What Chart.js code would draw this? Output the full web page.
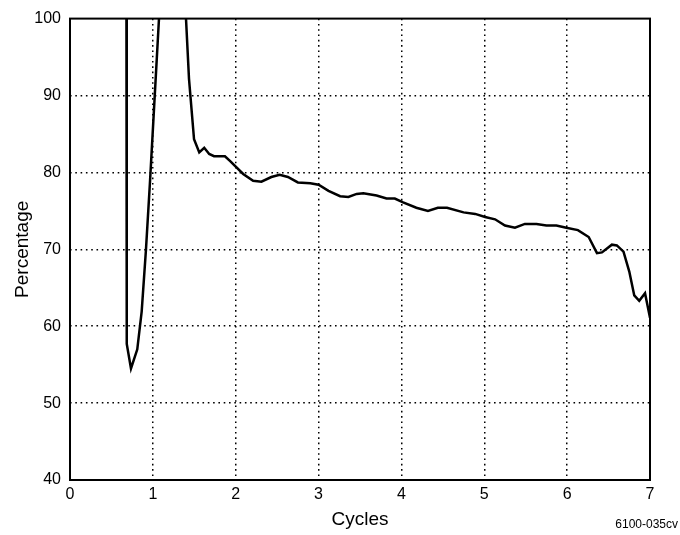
<!DOCTYPE html>
<html><head><meta charset="utf-8">
<script src="https://cdn.jsdelivr.net/npm/chart.js@4/dist/chart.umd.min.js"></script>
<style>html,body{margin:0;padding:0;background:#fff}#wrap{width:680px;height:535px}</style>
</head><body><div id="wrap"><canvas id="c" width="680" height="535"></canvas></div>
<script>
const cycles = [0.68, 0.685, 0.736, 0.812, 0.865, 0.917, 0.965, 1.074, 1.12, 1.36, 1.40, 1.436, 1.497, 1.56, 1.62, 1.68, 1.738, 1.87, 1.93, 2.09, 2.21, 2.31, 2.43, 2.53, 2.63, 2.75, 2.90, 3.00, 3.12, 3.26, 3.36, 3.46, 3.54, 3.70, 3.82, 3.92, 4.02, 4.18, 4.32, 4.44, 4.55, 4.75, 4.89, 5.01, 5.13, 5.25, 5.37, 5.49, 5.63, 5.75, 5.87, 5.99, 6.13, 6.26, 6.36, 6.42, 6.54, 6.60, 6.68, 6.75, 6.81, 6.87, 6.94, 7.00];
const percentage = [112, 57.7, 54.5, 57.0, 61.9, 70.0, 78.7, 100, 112, 112, 100, 92.2, 84.3, 82.6, 83.2, 82.4, 82.1, 82.1, 81.5, 79.8, 78.9, 78.8, 79.4, 79.7, 79.4, 78.7, 78.6, 78.4, 77.6, 76.9, 76.8, 77.2, 77.3, 77.0, 76.6, 76.6, 76.1, 75.4, 75.0, 75.4, 75.4, 74.8, 74.6, 74.2, 73.9, 73.1, 72.8, 73.3, 73.3, 73.1, 73.1, 72.8, 72.5, 71.6, 69.5, 69.6, 70.6, 70.5, 69.7, 67.1, 64.0, 63.3, 64.3, 61.1];
const xTicks = [0, 1, 2, 3, 4, 5, 6, 7];
const yTicks = [40, 50, 60, 70, 80, 90, 100];
const xTitle = 'Cycles';
const yTitle = 'Percentage';
const caption = '6100-035cv';

const FONT = '"Liberation Sans", Arial, sans-serif';
const edge = (v, arr) => v === arr[0] || v === arr[arr.length - 1];

const framePlugin = {
  id: 'frame',
  afterDraw(chart) {
    const {ctx, chartArea: a} = chart;
    ctx.save();
    ctx.strokeStyle = '#000';
    ctx.lineWidth = 2;
    ctx.strokeRect(a.left, a.top, a.right - a.left, a.bottom - a.top);
    ctx.fillStyle = '#000';
    ctx.font = '12px ' + FONT;
    ctx.textAlign = 'right';
    ctx.textBaseline = 'alphabetic';
    ctx.fillText(caption, chart.width - 2, chart.height - 7);
    ctx.restore();
  }
};

new Chart(document.getElementById('c'), {
  type: 'line',
  data: {
    datasets: [{
      data: cycles.map((x, i) => ({x, y: percentage[i]})),
      borderColor: '#000',
      borderWidth: 2.5,
      pointRadius: 0,
      tension: 0,
      fill: false
    }]
  },
  options: {
    responsive: false,
    animation: false,
    events: [],
    layout: {padding: {left: 0, right: 30, top: 15, bottom: 0}},
    plugins: {legend: {display: false}, tooltip: {enabled: false}},
    scales: {
      x: {
        type: 'linear', min: 0, max: 7,
        afterBuildTicks: s => { s.ticks = xTicks.map(v => ({value: v})); },
        afterFit: s => { s.height = 55; },
        grid: {color: ctx => edge(ctx.tick.value, xTicks) ? 'rgba(0,0,0,0)' : '#000', lineWidth: 1.5, drawTicks: false},
        border: {display: false, dash: [1.6, 3.7]},
        ticks: {color: '#000', padding: 5, font: {family: FONT, size: 16}},
        title: {display: true, text: xTitle, color: '#000', font: {family: FONT, size: 19}, padding: {top: 0, bottom: 4}}
      },
      y: {
        type: 'linear', min: 40, max: 100,
        afterBuildTicks: s => { s.ticks = yTicks.map(v => ({value: v})); },
        afterFit: s => { s.width = 70; },
        grid: {color: ctx => edge(ctx.tick.value, yTicks) ? 'rgba(0,0,0,0)' : '#000', lineWidth: 1.5, drawTicks: false},
        border: {display: false, dash: [1.6, 3.7]},
        ticks: {color: '#000', padding: 9, font: {family: FONT, size: 16}},
        title: {display: true, text: yTitle, color: '#000', font: {family: FONT, size: 19}, padding: {top: 11.5, bottom: 0}}
      }
    }
  },
  plugins: [framePlugin]
});
</script></body></html>
